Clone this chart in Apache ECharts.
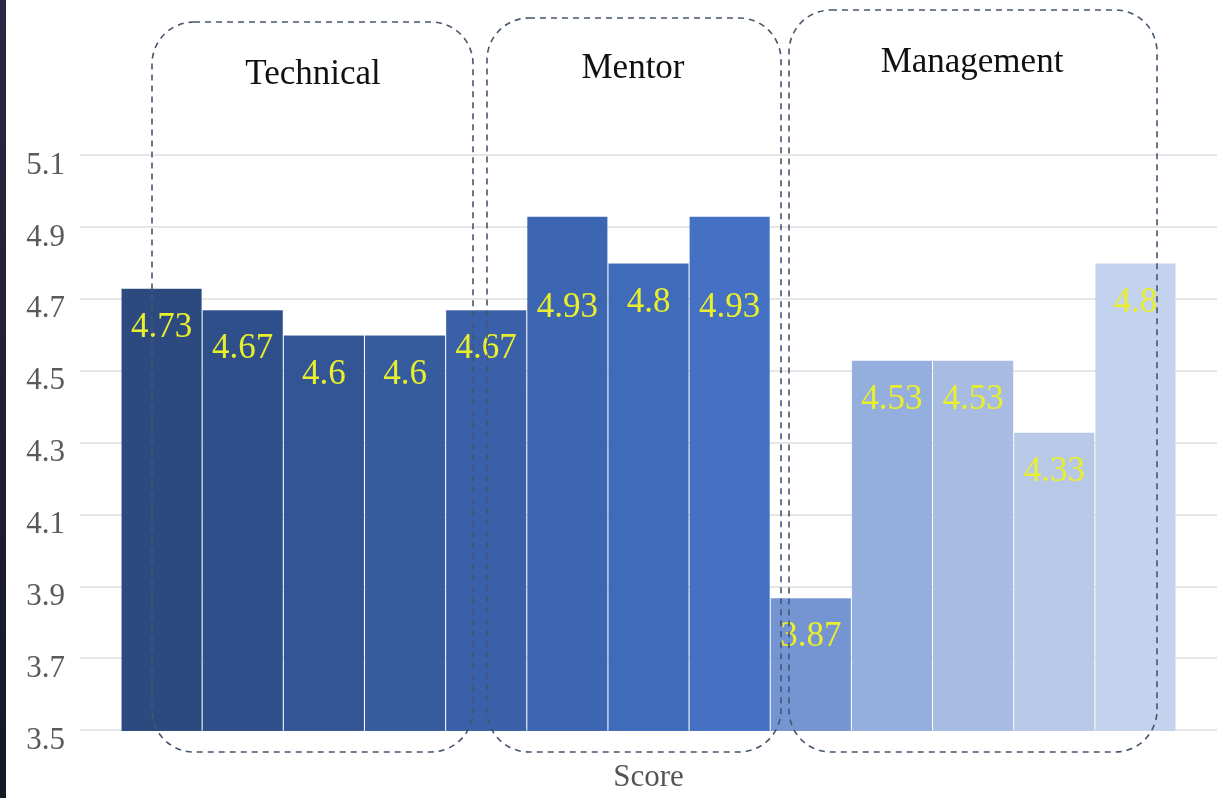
<!DOCTYPE html>
<html>
<head>
<meta charset="utf-8">
<script src="https://cdn.jsdelivr.net/npm/echarts@6/dist/echarts.min.js"></script>
<style>
  html, body { margin: 0; padding: 0; background: #ffffff; }
  #chart { width: 1217px; height: 798px; }
</style>
</head>
<body>
<div id="chart"></div>
<script>
// ---- data ----
const categories = ['T1', 'T2', 'T3', 'T4', 'T5', 'M1', 'M2', 'M3', 'G1', 'G2', 'G3', 'G4', 'G5'];
const scores = [4.73, 4.67, 4.6, 4.6, 4.67, 4.93, 4.8, 4.93, 3.87, 4.53, 4.53, 4.33, 4.8];
const barColors = ['#2c4a80', '#2f4f8a', '#335595', '#365b9f', '#3960a8', '#3d66b2', '#406bba', '#4471c3',
                   '#7495d2', '#94aedd', '#a8bce3', '#b8c9e8', '#c4d3ed'];
const groupNames = ['Technical', 'Mentor', 'Management'];
const yTicks = { min: 3.5, max: 5.1, step: 0.2 };
const axisName = 'Score';
// label distance from bar top (the two 4.93 labels sit lower in the original)
const labelDistances = [22, 22, 22, 22, 22, 74, 22, 74, 22, 22, 22, 22, 22];

const serif = '"Liberation Serif", "DejaVu Serif", serif';

const chart = echarts.init(document.getElementById('chart'), null, { renderer: 'canvas' });

const barData = scores.map((v, i) => ({
  value: v,
  itemStyle: { color: barColors[i] },
  label: { distance: labelDistances[i] }
}));

const boxes = [
  { x: 152, y: 22, w: 321, h: 730, tx: 313, ty: 75 },
  { x: 487, y: 18, w: 294, h: 734, tx: 633, ty: 69 },
  { x: 789, y: 10, w: 368, h: 742, tx: 972, ty: 63 }
];

const graphics = [
  {
    type: 'rect', left: 0, top: 0, z: 0,
    shape: { width: 6, height: 798 },
    style: { fill: new echarts.graphic.LinearGradient(0, 0, 0, 1, [
      { offset: 0, color: '#2e2642' }, { offset: 1, color: '#131927' }]) }
  }
];
boxes.forEach((b, i) => {
  graphics.push({
    type: 'rect', x: b.x, y: b.y, z: 100,
    shape: { width: b.w, height: b.h, r: 42 },
    style: { fill: 'none', stroke: '#46566e', lineWidth: 1.6, lineDash: [6, 5] }
  });
  graphics.push({
    type: 'text', x: b.tx, y: b.ty, z: 100,
    style: { text: groupNames[i], font: '35px ' + serif, fill: '#111111',
             textAlign: 'center', textVerticalAlign: 'middle' }
  });
});

const option = {
  backgroundColor: '#ffffff',
  animation: false,
  grid: [
    { left: 80, right: 0, top: 155, bottom: 67 },
    { left: 121, right: 41, top: 155, bottom: 67 }
  ],
  xAxis: [
    {
      gridIndex: 0, type: 'category', data: [''],
      axisLine: { show: false }, axisTick: { show: false }, axisLabel: { show: false },
      name: axisName, nameLocation: 'middle', nameGap: 32,
      nameTextStyle: { fontFamily: serif, fontSize: 31, color: '#555555' }
    },
    {
      gridIndex: 1, type: 'category', data: categories,
      axisLine: { show: false }, axisTick: { show: false }, axisLabel: { show: false }
    }
  ],
  yAxis: [
    {
      gridIndex: 0, type: 'value', min: yTicks.min, max: yTicks.max, interval: yTicks.step,
      axisLine: { show: false }, axisTick: { show: false },
      axisLabel: { margin: 15, fontFamily: serif, fontSize: 31, color: '#5a5a5a',
                   verticalAlign: 'top', lineHeight: 21,
                   formatter: v => v.toFixed(1) },
      splitLine: { show: true, lineStyle: { color: '#dedede', width: 1.5 } }
    },
    {
      gridIndex: 1, type: 'value', min: yTicks.min, max: yTicks.max, interval: yTicks.step,
      show: false, splitLine: { show: false }
    }
  ],
  series: [
    {
      type: 'bar', xAxisIndex: 1, yAxisIndex: 1,
      data: barData,
      barCategoryGap: '0%',
      itemStyle: { borderColor: 'rgba(255,255,255,0.07)', borderWidth: 1 },
      label: {
        show: true, position: 'insideTop',
        fontFamily: serif, fontSize: 35, color: '#e9ef2c',
        formatter: p => String(scores[p.dataIndex])
      },
      z: 2
    }
  ],
  graphic: graphics
};

chart.setOption(option);
</script>
</body>
</html>
